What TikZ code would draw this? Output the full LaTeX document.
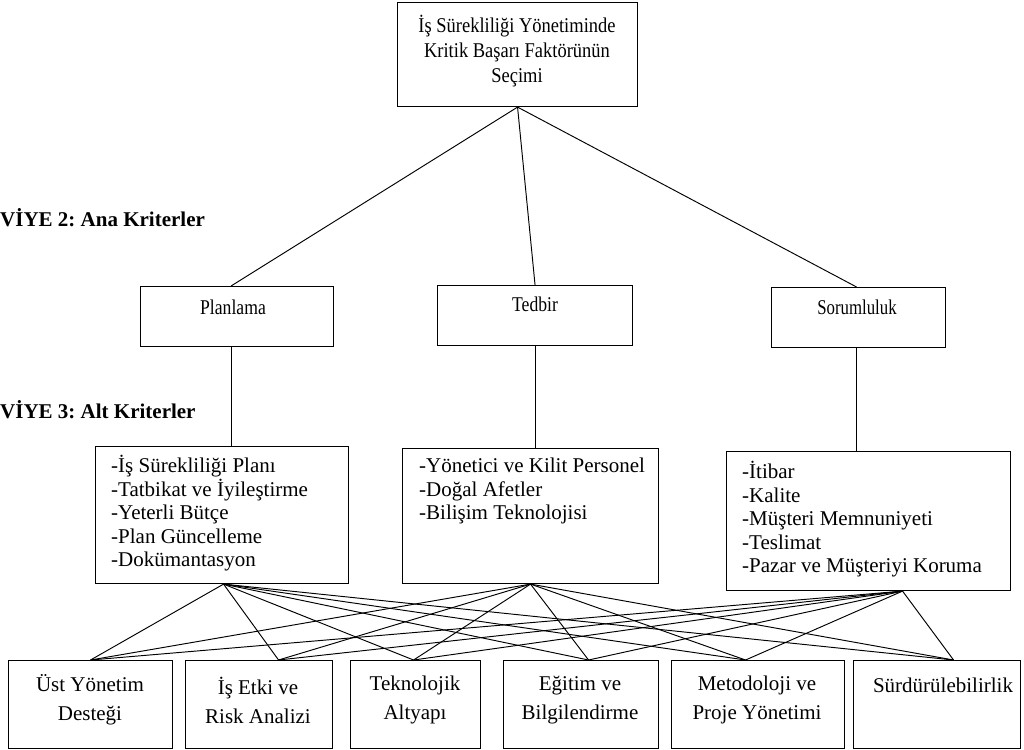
\documentclass[tikz,border=0pt]{standalone}
\usepackage{fontspec}
\setmainfont{Liberation Serif}
\newcommand{\narrowtext}[2]{\scalebox{#1}[1]{\begin{tabular}{@{}c@{}}#2\end{tabular}}}
\begin{document}
\frenchspacing
\begin{tikzpicture}[x=1pt,y=-1pt,
  box/.style={draw=black, line width=1.1pt, inner sep=0pt, anchor=north west},
  ttxt/.style={font=\fontsize{21}{25}\selectfont, inner sep=0pt, align=center},
  mtxt/.style={font=\fontsize{21}{24}\selectfont, inner sep=0pt, align=center},
  btxt/.style={font=\fontsize{21}{29}\selectfont, inner sep=0pt, align=center},
  ltxt/.style={font=\fontsize{21}{23.5}\selectfont, inner sep=0pt, align=left, anchor=north west},
  lvl/.style={font=\fontsize{21}{24}\selectfont\bfseries, inner sep=0pt, anchor=west},
  link/.style={draw=black, line width=0.95pt}]
\useasboundingbox (0,0) rectangle (1024,749);
% top
\node[box, minimum width=240pt, minimum height=104pt] (top) at (397,2) {};
\node[ttxt] (toptxt) at (517,53) {\narrowtext{0.88}{İş Sürekliliği Yönetiminde\\Kritik Başarı Faktörünün\\Seçimi}};
% level labels
\node[lvl] (lv2) at (0,218) {VİYE 2: Ana Kriterler};
\node[lvl] (lv3) at (0,410) {VİYE 3: Alt Kriterler};
% level 2
\node[box, minimum width=193pt, minimum height=60pt] (pl) at (140,286) {};
\node[mtxt] (pltxt) at (233,310) {\narrowtext{0.84}{Planlama}};
\node[box, minimum width=195pt, minimum height=60pt] (td) at (437,285) {};
\node[mtxt] (tdtxt) at (535,307) {\narrowtext{0.84}{Tedbir}};
\node[box, minimum width=174pt, minimum height=60pt] (so) at (771,287) {};
\node[mtxt] (sotxt) at (857,310) {\narrowtext{0.8}{Sorumluluk}};
% level 3
\node[box, minimum width=253pt, minimum height=137pt] (la) at (95,446) {};
\node[ltxt] (latxt) at (111,455) {-İş Sürekliliği Planı\\-Tatbikat ve İyileştirme\\-Yeterli Bütçe\\-Plan Güncelleme\\-Dokümantasyon};
\node[box, minimum width=256pt, minimum height=135pt] (lb) at (402,448) {};
\node[ltxt] (lbtxt) at (419,458) {-Yönetici ve Kilit Personel\\-Doğal Afetler\\-Bilişim Teknolojisi};
\node[box, minimum width=284pt, minimum height=139pt] (lc) at (726,451) {};
\node[ltxt] (lctxt) at (742,461) {-İtibar\\-Kalite\\-Müşteri Memnuniyeti\\-Teslimat\\-Pazar ve Müşteriyi Koruma};
% bottom
\node[box, minimum width=164pt, minimum height=88pt] (b1) at (8,660) {};
\node[btxt] (b1t) at (90,700) {Üst Yönetim\\Desteği};
\node[box, minimum width=147pt, minimum height=88pt] (b2) at (185,660) {};
\node[btxt] (b2t) at (258,700) {İş Etki ve\\Risk Analizi};
\node[box, minimum width=130pt, minimum height=88pt] (b3) at (350,660) {};
\node[btxt] (b3t) at (415,700) {Teknolojik\\Altyapı};
\node[box, minimum width=155pt, minimum height=88pt] (b4) at (503,660) {};
\node[btxt] (b4t) at (580,700) {Eğitim ve\\Bilgilendirme};
\node[box, minimum width=173pt, minimum height=88pt] (b5) at (671,660) {};
\node[btxt] (b5t) at (757,700) {Metodoloji ve\\Proje Yönetimi};
\node[box, minimum width=167pt, minimum height=88pt] (b6) at (853,660) {};
\node[btxt] (b6t) at (943,685) {Sürdürülebilirlik};
% connection points
\coordinate (pa) at ([xshift=-6pt]pl.north);
\coordinate (pb) at ([xshift=-6pt]pl.south);
\coordinate (sa) at ([xshift=-2pt]so.north);
\coordinate (sb) at ([xshift=-2pt]so.south);
\coordinate (lax) at ([xshift=1.5pt]la.south);
\coordinate (lbx) at (lb.south);
\coordinate (lcx) at ([xshift=34pt]lc.south);
\coordinate (e1) at (b1.north);
\coordinate (e2) at ([xshift=19.5pt]b2.north);
\coordinate (e3) at ([xshift=-2pt]b3.north);
\coordinate (e4) at ([xshift=7.5pt]b4.north);
\coordinate (e5) at ([xshift=-12.5pt]b5.north);
\coordinate (e6) at ([xshift=16.5pt]b6.north);
% links
\draw[link] (top.south) -- (pa);
\draw[link] (top.south) -- (td.north);
\draw[link] (top.south) -- (sa);
\draw[link] (pb) -- (pb |- la.north);
\draw[link] (td.south) -- (td.south |- lb.north);
\draw[link] (sb) -- (sb |- lc.north);
\foreach \s in {lax, lbx, lcx}{
  \foreach \e in {e1,e2,e3,e4,e5,e6}{
    \draw[link] (\s) -- (\e);
  }
}
\end{tikzpicture}
\end{document}
